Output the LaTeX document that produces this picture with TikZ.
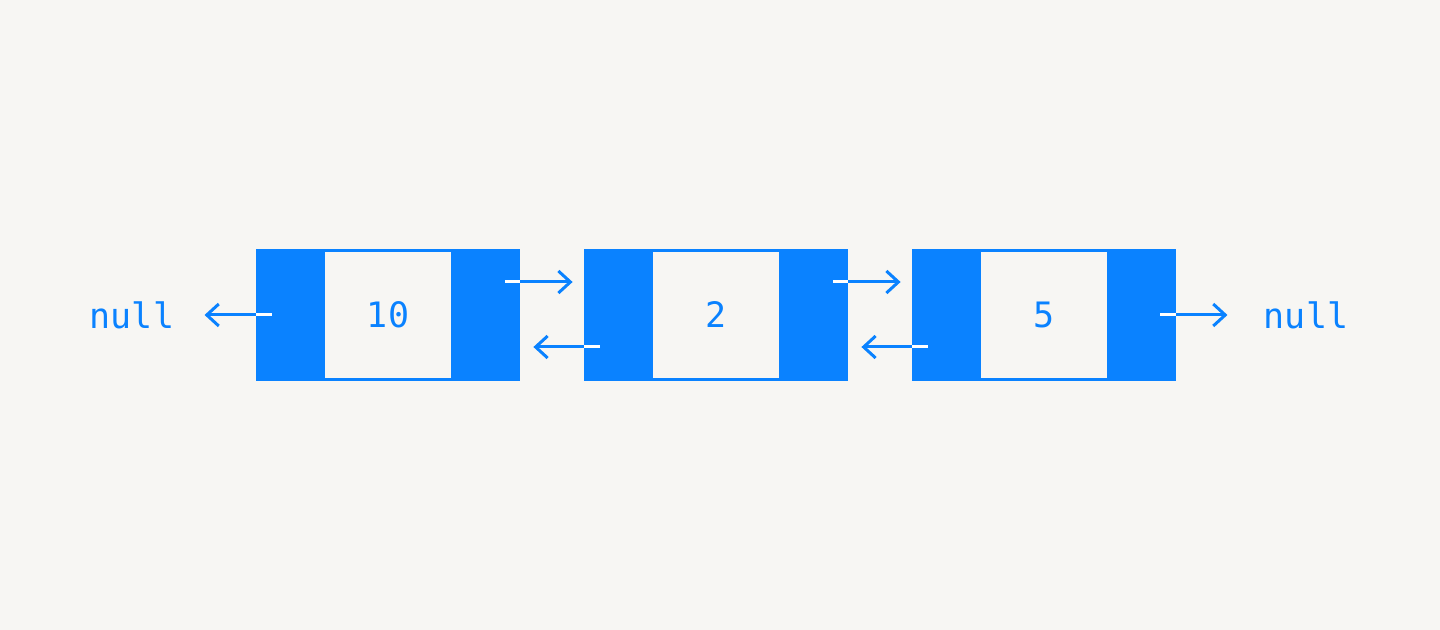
\documentclass[tikz,border=0pt]{standalone}
\usepackage{fontspec}
\setmonofont{DejaVu Sans Mono}
\usetikzlibrary{arrows.meta}

\definecolor{paper}{HTML}{F7F6F3}
\definecolor{listblue}{HTML}{0A82FF}

\tikzset{
  cell/.style={rectangle,fill=listblue,minimum width=132pt,minimum height=66pt,
    inner sep=0pt,text=listblue,font=\ttfamily\fontsize{17.5}{17.5}\selectfont,
    path picture={\fill[paper] ([xshift=-31.5pt,yshift=-31.5pt]path picture bounding box.center)
      rectangle ++(63pt,63pt);}},
  nulltext/.style={inner sep=0pt,text=listblue,font=\ttfamily\fontsize{17.5}{17.5}\selectfont},
  link/.style={draw=listblue,line width=1.5pt,-{Straight Barb[length=6pt,width=11pt]}},
  stub/.style={draw=white,line width=1.5pt}
}

\begin{document}
\begin{tikzpicture}[x=0.5pt,y=-0.5pt]
  \useasboundingbox[fill=paper] (0,0) rectangle (1440,630);

  \foreach \val [count=\i from 0] in {10,2,5}
    \node[cell] (n\i) at (388+328*\i,315) {\val};

  \node[nulltext] (nullL) at (132,315) {null};
  \node[nulltext] (nullR) at (1306,315) {null};

  % next and prev pointers
  \foreach \from/\to in {0/1,1/2} {
    \draw[link] ([xshift=-7.5pt,yshift=16.5pt]n\from.east) -- ([xshift=-5.5pt,yshift=16.5pt]n\to.west);
    \draw[stub] ([xshift=-7.5pt,yshift=16.5pt]n\from.east) -- ([yshift=16.5pt]n\from.east);
    \draw[link] ([xshift=8pt,yshift=-16pt]n\to.west) -- ([xshift=6.5pt,yshift=-16pt]n\from.east);
    \draw[stub] ([xshift=8pt,yshift=-16pt]n\to.west) -- ([yshift=-16pt]n\to.west);
  }

  % ends of the list
  \draw[link] ([xshift=8pt]n0.west) -- ([xshift=15pt]nullL.east);
  \draw[stub] ([xshift=8pt]n0.west) -- (n0.west);
  \draw[link] ([xshift=-8pt]n2.east) -- ([xshift=-18pt]nullR.west);
  \draw[stub] ([xshift=-8pt]n2.east) -- (n2.east);
\end{tikzpicture}
\end{document}
